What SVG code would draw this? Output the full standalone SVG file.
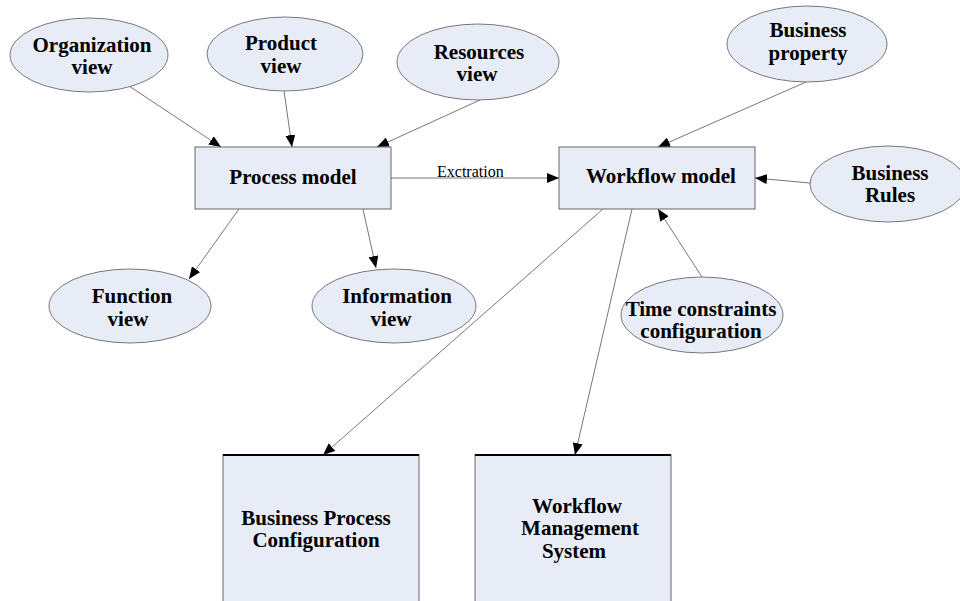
<svg xmlns="http://www.w3.org/2000/svg" width="960" height="601" viewBox="0 0 960 601">
<style>
.ell{fill:#e7ecf7;stroke:#777;stroke-width:1}
.box{fill:#e7ecf7;stroke:#666;stroke-width:1}
.t{font-family:"Liberation Serif","Times New Roman",serif;font-weight:bold;font-size:21px;fill:#000;text-anchor:middle}
.lbl{font-family:"Liberation Serif","Times New Roman",serif;font-size:16px;fill:#000}
.c{stroke:#777;stroke-width:1;fill:none;marker-end:url(#ah)}
</style>
<defs>
<marker id="ah" markerUnits="userSpaceOnUse" markerWidth="12" markerHeight="10" refX="12" refY="5" orient="auto">
<path d="M0,0 L12,5 L0,10 z" fill="#000"/>
</marker>
</defs>
<rect width="960" height="601" fill="#fff"/>
<g id="connectors">
<line class="c" x1="129" y1="86" x2="221" y2="147"/>
<line class="c" x1="284" y1="91" x2="292" y2="147"/>
<line class="c" x1="480" y1="100" x2="377" y2="147"/>
<line class="c" x1="391" y1="178" x2="559" y2="178"/>
<text class="lbl" x="437" y="177">Exctration</text>
<line class="c" x1="806" y1="82" x2="658" y2="147"/>
<line class="c" x1="810" y1="183" x2="755" y2="178"/>
<line class="c" x1="702" y1="277" x2="658" y2="209"/>
<line class="c" x1="239" y1="209" x2="189" y2="279"/>
<line class="c" x1="363" y1="209" x2="376" y2="268"/>
<line class="c" x1="603" y1="209" x2="323" y2="455"/>
<line class="c" x1="632" y1="209" x2="575" y2="455"/>
</g>
<g id="organization-view">
<ellipse class="ell" cx="89" cy="55" rx="79" ry="37"/>
<text class="t" x="92" y="52">Organization</text>
<text class="t" x="92" y="74">view</text>
</g>
<g id="product-view">
<ellipse class="ell" cx="285" cy="54" rx="78" ry="37"/>
<text class="t" x="281" y="50">Product</text>
<text class="t" x="281" y="73">view</text>
</g>
<g id="resources-view">
<ellipse class="ell" cx="478" cy="62" rx="81" ry="38"/>
<text class="t" x="479" y="59">Resources</text>
<text class="t" x="477" y="81">view</text>
</g>
<g id="business-property">
<ellipse class="ell" cx="807" cy="44" rx="80" ry="38"/>
<text class="t" x="808" y="37">Business</text>
<text class="t" x="808" y="60">property</text>
</g>
<g id="business-rules">
<ellipse class="ell" cx="888" cy="184" rx="78" ry="38"/>
<text class="t" x="890" y="180">Business</text>
<text class="t" x="890" y="202">Rules</text>
</g>
<g id="process-model">
<rect class="box" x="195" y="147" width="196" height="62"/>
<text class="t" x="293" y="184">Process model</text>
</g>
<g id="workflow-model">
<rect class="box" x="559" y="147" width="196" height="62"/>
<text class="t" x="661" y="183">Workflow model</text>
</g>
<g id="function-view">
<ellipse class="ell" cx="130" cy="306" rx="81" ry="37"/>
<text class="t" x="132" y="303">Function</text>
<text class="t" x="128" y="326">view</text>
</g>
<g id="information-view">
<ellipse class="ell" cx="394" cy="306" rx="82" ry="37"/>
<text class="t" x="397" y="303">Information</text>
<text class="t" x="391" y="326">view</text>
</g>
<g id="time-constraints">
<ellipse class="ell" cx="702" cy="315" rx="81" ry="38"/>
<text class="t" x="701" y="316">Time constraints</text>
<text class="t" x="701" y="338">configuration</text>
</g>
<g id="business-process-configuration">
<rect class="box" x="223" y="455" width="196" height="160"/>
<line x1="223" y1="455" x2="419" y2="455" stroke="#000" stroke-width="2"/>
<text class="t" x="316" y="525">Business Process</text>
<text class="t" x="316" y="547">Configuration</text>
</g>
<g id="workflow-management-system">
<rect class="box" x="475" y="455" width="196" height="160"/>
<line x1="475" y1="455" x2="671" y2="455" stroke="#000" stroke-width="2"/>
<text class="t" x="577" y="513">Workflow</text>
<text class="t" x="580" y="535">Management</text>
<text class="t" x="574" y="558">System</text>
</g>
</svg>
